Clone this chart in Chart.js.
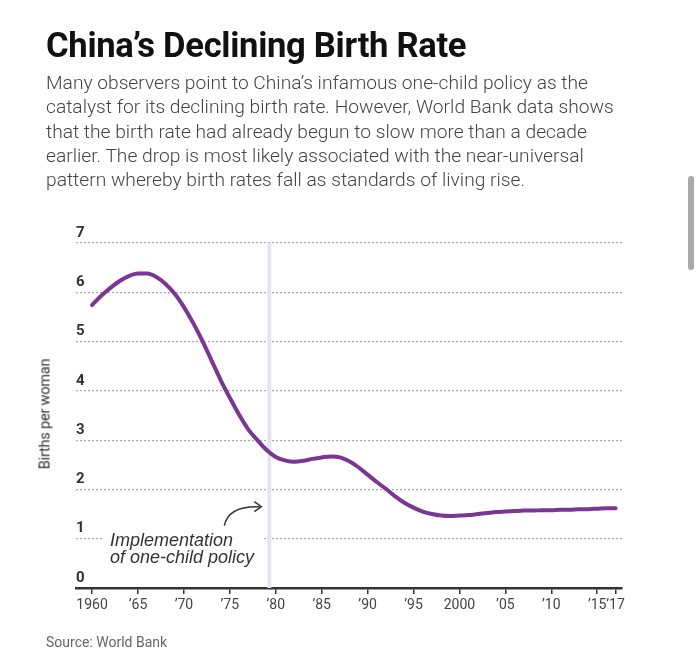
<!DOCTYPE html>
<html>
<head>
<meta charset="utf-8">
<script src="https://cdn.jsdelivr.net/npm/chart.js@4/dist/chart.umd.min.js"></script>
<style>
  html, body { margin: 0; padding: 0; background: #fff; }
  body { width: 700px; height: 667px; position: relative; overflow: hidden; font-family: Roboto, "Liberation Sans", Arial, sans-serif; }
  #wrap { position: absolute; left: 0; top: 0; width: 700px; height: 667px; }
  h1 { position: absolute; left: 46px; top: 25px; margin: 0; font-size: 34.6px; font-weight: 700; color: #111; letter-spacing: -0.3px; white-space: nowrap; line-height: 40px; }
  #sub { position: absolute; left: 46px; top: 71px; margin: 0; font-size: 19.2px; font-weight: 300; color: #444; line-height: 24.3px; white-space: nowrap; }
  #src { position: absolute; left: 46px; top: 634px; font-size: 14px; color: #666; white-space: nowrap; }
  #scroll { position: absolute; left: 688px; top: 176px; width: 6px; height: 94px; background: #aaa; border-radius: 3px; }
  #ytitle { position: absolute; left: 45px; top: 414px; transform: translate(-50%, -50%) rotate(-90deg); font-size: 14.5px; color: #333; white-space: nowrap; letter-spacing: -0.2px; }
</style>
</head>
<body>
<div id="wrap"><canvas id="c" width="700" height="667"></canvas></div>
<h1>China’s Declining Birth Rate</h1>
<div id="sub">Many observers point to China’s infamous one-child policy as the<br>catalyst for its declining birth rate. However, World Bank data shows<br>that the birth rate had already begun to slow more than a decade<br>earlier. The drop is most likely associated with the near-universal<br>pattern whereby birth rates fall as standards of living rise.</div>
<div id="src">Source: World Bank</div>
<div id="ytitle">Births per woman</div>
<div id="scroll"></div>
<script>
const years = [1960,1961,1962,1963,1964,1965,1966,1967,1968,1969,
               1970,1971,1972,1973,1974,1975,1976,1977,1978,1979,
               1980,1981,1982,1983,1984,1985,1986,1987,1988,1989,
               1990,1991,1992,1993,1994,1995,1996,1997,1998,1999,
               2000,2001,2002,2003,2004,2005,2006,2007,2008,2009,
               2010,2011,2012,2013,2014,2015,2016,2017];
const birthsPerWoman = [5.74,5.93,6.09,6.23,6.33,6.38,6.38,6.31,6.17,5.97,
                        5.70,5.38,5.02,4.62,4.22,3.86,3.52,3.22,3.00,2.80,
                        2.66,2.59,2.56,2.58,2.62,2.65,2.67,2.65,2.57,2.45,
                        2.30,2.15,2.01,1.86,1.73,1.63,1.55,1.50,1.47,1.46,
                        1.47,1.48,1.50,1.52,1.54,1.55,1.56,1.57,1.57,1.58,
                        1.58,1.59,1.59,1.60,1.60,1.61,1.62,1.62];
const xTickValues = [1960,1965,1970,1975,1980,1985,1990,1995,2000,2005,2010,2015,2017];
const xTickLabels = ['1960','’65','’70','’75','’80','’85','’90','’95','2000','’05','’10','’15','’17'];
const yTickLabels = ['0','1','2','3','4','5','6','7'];
const policyYear = 1979.3;
const annotationLines = ['Implementation', 'of one-child policy'];

const points = years.map((y, i) => ({ x: y, y: birthsPerWoman[i] }));

const annotationPlugin = {
  id: 'policyAnnotation',
  beforeDatasetsDraw(chart) {
    const { ctx, chartArea, scales } = chart;
    const xp = scales.x.getPixelForValue(policyYear);
    ctx.save();
    ctx.fillStyle = '#e5e3ee';
    ctx.fillRect(xp - 2, chartArea.top, 4, chartArea.bottom - chartArea.top);
    const y1 = scales.y.getPixelForValue(1);
    const tx = chartArea.left + 34;
    ctx.font = 'italic 18px "Liberation Sans", Arial, sans-serif';
    const w = Math.max(...annotationLines.map(t => ctx.measureText(t).width));
    ctx.fillStyle = '#fff';
    ctx.fillRect(tx - 8, y1 - 4, w + 16, 8);
    ctx.fillStyle = '#333';
    ctx.textBaseline = 'alphabetic';
    ctx.fillText(annotationLines[0], tx, y1 + 7);
    ctx.fillText(annotationLines[1], tx, y1 + 24);
    const tipX = xp - 8;
    const tipY = scales.y.getPixelForValue(1.65);
    ctx.strokeStyle = '#333';
    ctx.lineWidth = 1.5;
    ctx.beginPath();
    ctx.moveTo(tipX - 37, tipY + 19);
    ctx.quadraticCurveTo(tipX - 33, tipY - 1, tipX - 2, tipY);
    ctx.stroke();
    ctx.beginPath();
    ctx.moveTo(tipX - 7, tipY - 5);
    ctx.lineTo(tipX, tipY);
    ctx.lineTo(tipX - 7, tipY + 5);
    ctx.stroke();
    ctx.restore();
  }
};

new Chart(document.getElementById('c'), {
  type: 'line',
  data: {
    datasets: [{
      data: points,
      borderColor: '#7b3593',
      borderWidth: 4,
      pointRadius: 0,
      tension: 0.4,
      cubicInterpolationMode: 'monotone',
      borderCapStyle: 'round',
      fill: false
    }]
  },
  options: {
    responsive: false,
    animation: false,
    events: [],
    layout: { padding: { top: 243, right: 78, bottom: 39, left: 0 } },
    plugins: { legend: { display: false }, tooltip: { enabled: false } },
    scales: {
      x: {
        type: 'linear',
        min: 1958.25,
        max: 2017.7,
        afterBuildTicks(scale) { scale.ticks = xTickValues.map(v => ({ value: v })); },
        afterFit(scale) { scale.height = 40; },
        ticks: {
          autoSkip: false,
          maxRotation: 0,
          padding: 3,
          color: '#444',
          font: { family: 'Roboto, "Liberation Sans", Arial, sans-serif', size: 14 },
          callback(v) { const i = xTickValues.indexOf(v); return i >= 0 ? xTickLabels[i] : ''; }
        },
        grid: { drawOnChartArea: false, drawTicks: true, tickLength: 6, color: '#333', lineWidth: 1.5 },
        border: { display: true, color: '#333', width: 2.5 }
      },
      y: {
        min: 0,
        max: 7,
        afterBuildTicks(scale) { scale.ticks = yTickLabels.map((t, i) => ({ value: i })); },
        afterFit(scale) { scale.width = 76; },
        ticks: {
          mirror: true,
          padding: 0,
          labelOffset: -10,
          color: '#333',
          font: { family: 'Roboto, "Liberation Sans", Arial, sans-serif', size: 15, weight: '700' },
          callback(v) { return yTickLabels[v]; }
        },
        grid: { drawTicks: false, color: (c) => c.tick && c.tick.value === 0 ? 'rgba(0,0,0,0)' : '#a8a8a8', lineWidth: 1.2 },
        border: { display: false, dash: [2, 2] }
      }
    }
  },
  plugins: [annotationPlugin]
});
</script>
</body>
</html>
